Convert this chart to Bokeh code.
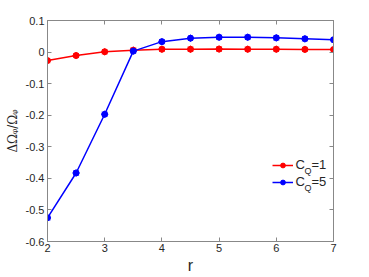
from bokeh.plotting import figure
from bokeh.models import LinearAxis, Legend, LegendItem, Label, Range1d, FixedTicker
from bokeh.embed import file_html
from bokeh.resources import INLINE

r_vals = [2, 2.5, 3, 3.5, 4, 4.5, 5, 5.5, 6, 6.5, 7]
cq1 = [-0.027, -0.011, 0.001, 0.006, 0.009, 0.009, 0.0095, 0.009, 0.009, 0.0085, 0.008]
cq5 = [-0.525, -0.383, -0.197, 0.003, 0.033, 0.044, 0.047, 0.047, 0.045, 0.042, 0.039]
x_ticks = [2, 3, 4, 5, 6, 7]
y_ticks = [-0.6, -0.5, -0.4, -0.3, -0.2, -0.1, 0, 0.1]
y_tick_labels = ["-0.6", "-0.5", "-0.4", "-0.3", "-0.2", "-0.1", "0", "0.1"]

FONT = "Liberation Sans"
AX = "#888888"
TXT = "#262626"

p = figure(width=369, height=277, output_backend="svg", toolbar_location=None,
           x_range=Range1d(2, 7), y_range=Range1d(-0.6, 0.1),
           frame_width=286, frame_height=221,
           min_border_left=47, min_border_right=36, min_border_top=20, min_border_bottom=36,
           x_axis_location="below", y_axis_location="left")
p.grid.visible = False
p.outline_line_color = AX
p.background_fill_color = "white"

for ax in [p.xaxis[0], p.yaxis[0]]:
    ax.axis_line_color = AX
    ax.major_tick_line_color = AX
    ax.major_tick_in = 4
    ax.major_tick_out = 0
    ax.minor_tick_line_color = None
    ax.major_label_text_font = FONT
    ax.major_label_text_font_size = "11px"
    ax.major_label_text_color = TXT

p.xaxis.ticker = FixedTicker(ticks=x_ticks)
p.yaxis.ticker = FixedTicker(ticks=y_ticks)
p.yaxis.major_label_overrides = dict(zip(y_ticks, y_tick_labels))
p.xaxis.major_label_standoff = 2
p.yaxis.major_label_standoff = 3
p.xaxis.axis_label = "r"
p.xaxis.axis_label_text_font = FONT
p.xaxis.axis_label_text_font_size = "16px"
p.xaxis.axis_label_text_font_style = "normal"
p.xaxis.axis_label_text_color = TXT
p.xaxis.axis_label_standoff = 2

p.yaxis.axis_label = "\u0394\u03a9\u1d69/\u03a9\u1d69"
p.yaxis.axis_label_text_font = "DejaVu Serif"
p.yaxis.axis_label_text_font_size = "12px"
p.yaxis.axis_label_text_font_style = "normal"
p.yaxis.axis_label_text_color = TXT
p.yaxis.axis_label_standoff = 3

top = LinearAxis(ticker=FixedTicker(ticks=x_ticks),
                 major_label_overrides={t: "" for t in x_ticks},
                 axis_line_color=AX, major_tick_line_color=AX, major_tick_in=4, major_tick_out=0,
                 minor_tick_line_color=None, major_label_standoff=0)
right = LinearAxis(ticker=FixedTicker(ticks=y_ticks),
                   major_label_overrides={t: "" for t in y_ticks},
                   axis_line_color=AX, major_tick_line_color=AX, major_tick_in=4, major_tick_out=0,
                   minor_tick_line_color=None, major_label_standoff=0)
p.add_layout(top, "above")
p.add_layout(right, "right")

RED = "#ff0000"
BLUE = "#0000ff"
l1 = p.line(r_vals, cq1, line_color=RED, line_width=1.5)
s1 = p.scatter(r_vals, cq1, marker="circle", size=6, fill_color=RED, line_color=RED)
p.scatter(r_vals, cq1, marker="asterisk", size=7, line_color=RED, line_width=1)
l2 = p.line(r_vals, cq5, line_color=BLUE, line_width=1.5)
s2 = p.scatter(r_vals, cq5, marker="circle", size=6, fill_color=BLUE, line_color=BLUE)
p.scatter(r_vals, cq5, marker="asterisk", size=7, line_color=BLUE, line_width=1)

legend = Legend(items=[LegendItem(label=" ", renderers=[l1, s1]),
                       LegendItem(label=" ", renderers=[l2, s2])],
                location=(225, 53), glyph_width=21, glyph_height=12, spacing=5,
                padding=0, margin=0, label_width=40, label_standoff=0,
                border_line_alpha=0, background_fill_alpha=0, label_text_font_size="12px")
p.add_layout(legend, "center")

# legend texts with subscripts
leg_texts = [("C", "Q", "=1"), ("C", "Q", "=5")]
leg_y = [70, 53]
for (c, q, rest), yy in zip(leg_texts, leg_y):
    p.add_layout(Label(x=248, y=yy, x_units="screen", y_units="screen", text=c,
                       text_font=FONT, text_font_size="13px", text_color=TXT))
    p.add_layout(Label(x=257, y=yy - 4, x_units="screen", y_units="screen", text=q,
                       text_font=FONT, text_font_size="9px", text_color=TXT))
    p.add_layout(Label(x=264, y=yy, x_units="screen", y_units="screen", text=rest,
                       text_font=FONT, text_font_size="13px", text_color=TXT))

open("out.html", "w").write(file_html(p, INLINE))
